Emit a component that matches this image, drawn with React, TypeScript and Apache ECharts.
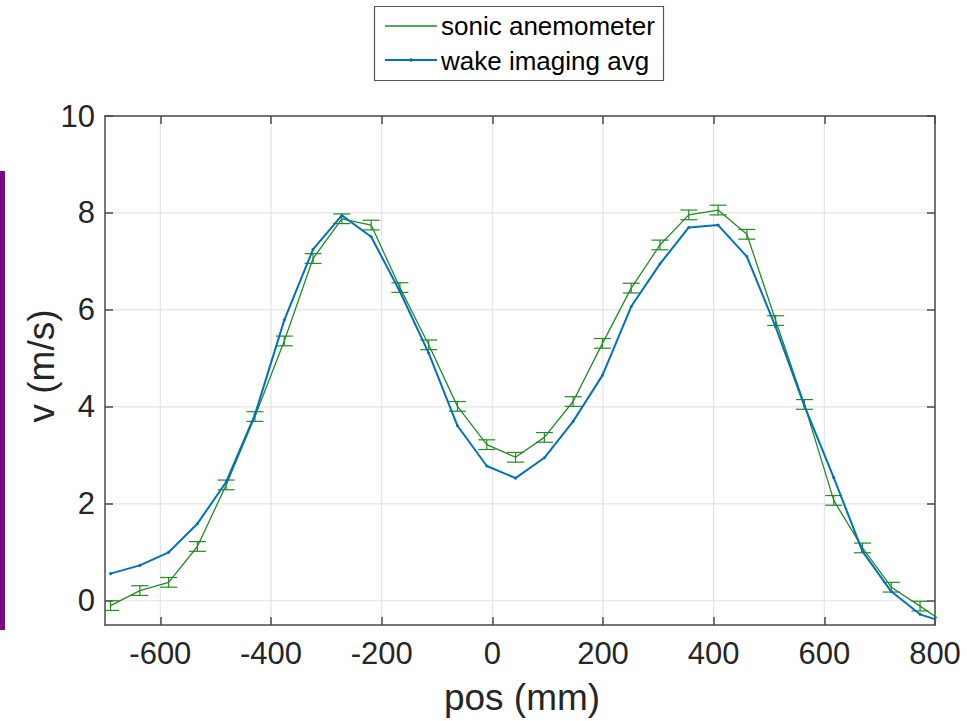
import React, { useEffect, useRef } from "react";
import * as echarts from "echarts";

// ---- data ----
const positions = [-690, -637, -585, -533, -481, -429, -376, -324, -272, -219, -167, -115, -63, -10, 42, 94, 146, 199, 251, 303, 355, 408, 460, 512, 564, 617, 669, 721, 773, 825];
const sonicValues = [-0.10, 0.21, 0.38, 1.12, 2.39, 3.80, 5.36, 7.06, 7.88, 7.75, 6.46, 5.28, 4.01, 3.22, 2.96, 3.37, 4.11, 5.31, 6.45, 7.34, 7.96, 8.06, 7.56, 5.78, 4.05, 2.07, 1.09, 0.28, -0.11, -0.52];
const sonicErr = [0.1, 0.1, 0.1, 0.1, 0.1, 0.1, 0.1, 0.1, 0.1, 0.1, 0.1, 0.1, 0.1, 0.1, 0.1, 0.1, 0.1, 0.1, 0.1, 0.1, 0.1, 0.1, 0.1, 0.1, 0.1, 0.1, 0.1, 0.1, 0.1, 0.1];
const wakeValues = [0.56, 0.73, 1.00, 1.59, 2.45, 3.84, 5.79, 7.25, 7.95, 7.51, 6.38, 5.11, 3.61, 2.78, 2.53, 2.95, 3.70, 4.65, 6.07, 6.95, 7.70, 7.75, 7.10, 5.65, 4.02, 2.54, 1.02, 0.19, -0.28, -0.47];

const xTicks = [-600, -400, -200, 0, 200, 400, 600, 800];
const yTicks = [0, 2, 4, 6, 8, 10];
const X_MIN = -700;
const X_MAX = 800;
const Y_MIN = -0.5;
const Y_MAX = 10;

const GREEN = "#228B22";
const BLUE = "#0072BD";
const AXIS = "#4a4a4a";
const TEXT = "#262626";
const GRIDC = "#e3e3e3";
const FONT = '"Liberation Sans", Arial, Helvetica, sans-serif';

export default function App() {
  const ref = useRef<HTMLDivElement | null>(null);

  useEffect(() => {
    document.body.style.margin = "0";
    if (!ref.current) return;
    const chart = echarts.init(ref.current, undefined, { renderer: "svg" });

    const axisCommon = (pos: string, ticks: number[], min: number, max: number, showLabel: boolean) => ({
      type: "value",
      position: pos,
      min,
      max,
      axisLine: { show: true, onZero: false, lineStyle: { color: AXIS, width: 1.5 } },
      axisTick: { show: true, inside: true, length: 8, customValues: ticks, lineStyle: { color: AXIS, width: 1.5 } },
      axisLabel: {
        show: showLabel,
        customValues: ticks,
        fontSize: 31,
        color: TEXT,
        fontFamily: FONT,
        margin: pos === "bottom" ? 13 : 10,
      },
      splitLine: { show: false },
    });

    const option: any = {
      animation: false,
      grid: { left: 105, right: 32, top: 116, bottom: 96, containLabel: false },
      xAxis: [
        axisCommon("bottom", xTicks, X_MIN, X_MAX, true),
        axisCommon("top", xTicks, X_MIN, X_MAX, false),
      ],
      yAxis: [
        axisCommon("left", yTicks, Y_MIN, Y_MAX, true),
        axisCommon("right", yTicks, Y_MIN, Y_MAX, false),
      ],
      series: [
        {
          type: "custom",
          name: "xgrid",
          silent: true,
          z: 0,
          data: xTicks.map((v) => [v, 0]),
          encode: { x: 0, y: 1 },
          renderItem: (params: any, api: any) => {
            const v = api.value(0);
            const a = api.coord([v, Y_MIN]);
            const b = api.coord([v, Y_MAX]);
            return { type: "line", shape: { x1: a[0], y1: a[1], x2: b[0], y2: b[1] }, style: { stroke: GRIDC, lineWidth: 1.2 } };
          },
        },
        {
          type: "custom",
          name: "ygrid",
          silent: true,
          z: 0,
          data: yTicks.map((v) => [0, v]),
          encode: { x: 0, y: 1 },
          renderItem: (params: any, api: any) => {
            const v = api.value(1);
            const a = api.coord([X_MIN, v]);
            const b = api.coord([X_MAX, v]);
            return { type: "line", shape: { x1: a[0], y1: a[1], x2: b[0], y2: b[1] }, style: { stroke: GRIDC, lineWidth: 1.2 } };
          },
        },
        {
          type: "line",
          name: "sonic anemometer",
          data: positions.map((x, i) => [x, sonicValues[i]]),
          symbol: "none",
          lineStyle: { color: GREEN, width: 1.3 },
          itemStyle: { color: GREEN },
          clip: true,
          z: 2,
        },
        {
          type: "custom",
          name: "sonic error",
          clip: true,
          z: 2,
          data: positions.map((x, i) => [x, sonicValues[i] - sonicErr[i], sonicValues[i] + sonicErr[i]]),
          encode: { x: 0, y: [1, 2] },
          renderItem: (params: any, api: any) => {
            const x = api.value(0);
            const lo = api.coord([x, api.value(1)]);
            const hi = api.coord([x, api.value(2)]);
            const hw = 8.5;
            const st = { stroke: GREEN, lineWidth: 1.2 };
            return {
              type: "group",
              children: [
                { type: "line", shape: { x1: lo[0], y1: lo[1], x2: hi[0], y2: hi[1] }, style: st },
                { type: "line", shape: { x1: lo[0] - hw, y1: lo[1], x2: lo[0] + hw, y2: lo[1] }, style: st },
                { type: "line", shape: { x1: hi[0] - hw, y1: hi[1], x2: hi[0] + hw, y2: hi[1] }, style: st },
              ],
            };
          },
        },
        {
          type: "line",
          name: "wake imaging avg",
          data: positions.map((x, i) => [x, wakeValues[i]]),
          symbol: "circle",
          symbolSize: 3,
          showSymbol: true,
          lineStyle: { color: BLUE, width: 2 },
          itemStyle: { color: BLUE },
          clip: true,
          z: 4,
        },
      ],
      graphic: [
        { type: "rect", shape: { x: 0, y: 171, width: 5, height: 459 }, style: { fill: "#7b0a82" } },
        { type: "rect", shape: { x: 374.5, y: 6.5, width: 289, height: 74 }, style: { fill: "#ffffff", stroke: "#555555", lineWidth: 1.2 } },
        { type: "line", shape: { x1: 385, y1: 26, x2: 437, y2: 26 }, style: { stroke: GREEN, lineWidth: 1.3 } },
        { type: "line", shape: { x1: 385, y1: 60, x2: 437, y2: 60 }, style: { stroke: BLUE, lineWidth: 2 } },
        { type: "circle", shape: { cx: 411, cy: 60, r: 1.8 }, style: { fill: BLUE } },
        {
          type: "text",
          x: 441,
          y: 26,
          style: { text: "sonic anemometer", font: `26px ${FONT}`, fill: "#000", textAlign: "left", textVerticalAlign: "middle", verticalAlign: "middle" },
        },
        {
          type: "text",
          x: 441,
          y: 61,
          style: { text: "wake imaging avg", font: `26px ${FONT}`, fill: "#000", textAlign: "left", textVerticalAlign: "middle", verticalAlign: "middle" },
        },
        {
          type: "text",
          x: 522,
          y: 697,
          style: { text: "pos (mm)", font: `37px ${FONT}`, fill: TEXT, textAlign: "center", textVerticalAlign: "middle", verticalAlign: "middle", align: "center" },
        },
        {
          type: "text",
          x: 41,
          y: 366,
          rotation: Math.PI / 2,
          style: { text: "v (m/s)", font: `37px ${FONT}`, fill: TEXT, textAlign: "center", textVerticalAlign: "middle", verticalAlign: "middle", align: "center" },
        },
      ],
    };

    chart.setOption(option);
    return () => {
      chart.dispose();
    };
  }, []);

  return <div ref={ref} style={{ width: 967, height: 721, background: "#fff" }} />;
}
